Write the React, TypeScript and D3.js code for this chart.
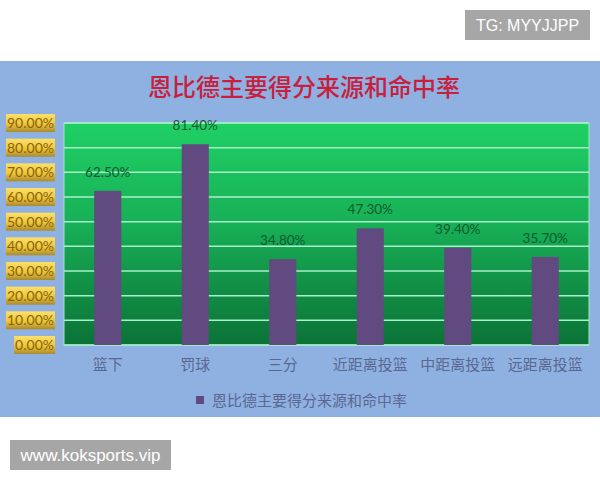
import { useEffect, useRef } from 'react';
import * as d3 from 'd3';

const categories = ['篮下', '罚球', '三分', '近距离投篮', '中距离投篮', '远距离投篮'];
const rates = [0.625, 0.814, 0.348, 0.473, 0.394, 0.357];
const yTicks = [0, 0.1, 0.2, 0.3, 0.4, 0.5, 0.6, 0.7, 0.8, 0.9];
const title = '恩比德主要得分来源和命中率';

const W = 600;
const H = 480;
const CJK = '"Noto Sans CJK SC", "Noto Sans", sans-serif';

export default function App() {
  const svgRef = useRef<SVGSVGElement>(null);

  useEffect(() => {
    if (!svgRef.current) return;
    const svg = d3.select(svgRef.current);
    svg.selectAll('*').remove();

    const defs = svg.append('defs');
    const green = defs
      .append('linearGradient')
      .attr('id', 'plotGreen')
      .attr('x1', 0)
      .attr('y1', 0)
      .attr('x2', 0)
      .attr('y2', 1);
    green.append('stop').attr('offset', '0%').attr('stop-color', '#1fd064');
    green.append('stop').attr('offset', '45%').attr('stop-color', '#18b057');
    green.append('stop').attr('offset', '100%').attr('stop-color', '#0b7236');

    const gold = defs
      .append('linearGradient')
      .attr('id', 'tickGold')
      .attr('x1', 0)
      .attr('y1', 0)
      .attr('x2', 0)
      .attr('y2', 1);
    gold.append('stop').attr('offset', '0%').attr('stop-color', '#fbe06a');
    gold.append('stop').attr('offset', '55%').attr('stop-color', '#f1c638');
    gold.append('stop').attr('offset', '100%').attr('stop-color', '#a98a2e');

    svg.append('rect').attr('width', W).attr('height', H).attr('fill', '#ffffff');

    // chart background
    svg.append('rect').attr('x', 0).attr('y', 61).attr('width', W).attr('height', 356).attr('fill', '#8fb1e2');

    svg
      .append('text')
      .attr('x', 304)
      .attr('y', 96)
      .attr('text-anchor', 'middle')
      .style('font-family', CJK)
      .style('font-size', '24px')
      .style('font-weight', 500)
      .style('fill', '#c8203c')
      .text(title);

    const plot = { left: 64, right: 589, top: 123, bottom: 345 };

    const x = d3.scaleBand<string>().domain(categories).range([plot.left, plot.right]);
    const y = d3.scaleLinear().domain([0, 0.9]).range([plot.bottom, plot.top]);
    const barW = x.step() * 0.31;

    svg
      .append('rect')
      .attr('x', plot.left)
      .attr('y', plot.top)
      .attr('width', plot.right - plot.left)
      .attr('height', plot.bottom - plot.top)
      .attr('fill', 'url(#plotGreen)')
      .attr('stroke', '#9fe8c4')
      .attr('stroke-width', 1);

    svg
      .append('g')
      .selectAll('line')
      .data(yTicks)
      .join('line')
      .attr('x1', plot.left)
      .attr('x2', plot.right)
      .attr('y1', (d) => y(d))
      .attr('y2', (d) => y(d))
      .attr('stroke', '#a8f0cc')
      .attr('stroke-width', 1.5);

    svg
      .append('g')
      .selectAll('rect')
      .data(rates)
      .join('rect')
      .attr('x', (_, i) => (x(categories[i]) ?? 0) + x.bandwidth() / 2 - barW / 2)
      .attr('y', (d) => y(d))
      .attr('width', barW)
      .attr('height', (d) => plot.bottom - y(d))
      .attr('fill', '#614a80');

    svg
      .append('g')
      .selectAll('text')
      .data(rates)
      .join('text')
      .attr('x', (_, i) => (x(categories[i]) ?? 0) + x.bandwidth() / 2)
      .attr('y', (d) => y(d) - 14)
      .attr('text-anchor', 'middle')
      .style('font-family', 'Lato, "Open Sans", sans-serif')
      .style('font-size', '13.5px')
      .style('fill', '#0e5a30')
      .text((d) => d3.format('.2%')(d));

    // y tick labels in gold boxes
    const tickG = svg
      .append('g')
      .selectAll('g')
      .data(yTicks)
      .join('g')
      .attr('transform', (d) => `translate(0,${y(d)})`);

    tickG
      .append('text')
      .attr('x', 54)
      .attr('y', 5)
      .attr('text-anchor', 'end')
      .style('font-family', 'Lato, "Open Sans", sans-serif')
      .style('font-size', '14px')
      .style('fill', '#85640f')
      .text((d) => d3.format('.2%')(d))
      .each(function () {
        const bb = (this as SVGTextElement).getBBox();
        d3.select((this as SVGTextElement).parentNode as SVGGElement)
          .insert('rect', 'text')
          .attr('x', bb.x - 1)
          .attr('y', -9)
          .attr('width', bb.width + 2)
          .attr('height', 18)
          .attr('fill', 'url(#tickGold)');
      });

    svg
      .append('g')
      .selectAll('text')
      .data(categories)
      .join('text')
      .attr('x', (d) => (x(d) ?? 0) + x.bandwidth() / 2)
      .attr('y', 370)
      .attr('text-anchor', 'middle')
      .style('font-family', CJK)
      .style('font-size', '15px')
      .style('fill', '#5a6890')
      .text((d) => d);

    // legend
    svg.append('rect').attr('x', 196).attr('y', 396).attr('width', 8).attr('height', 8).attr('fill', '#614a80');
    svg
      .append('text')
      .attr('x', 212)
      .attr('y', 406)
      .style('font-family', CJK)
      .style('font-size', '15px')
      .style('fill', '#5a6890')
      .text(title);

    // watermarks
    svg.append('rect').attr('x', 465).attr('y', 10).attr('width', 125).attr('height', 30).attr('fill', '#a6a6a6');
    svg
      .append('text')
      .attr('x', 527.5)
      .attr('y', 31)
      .attr('text-anchor', 'middle')
      .style('font-family', '"Liberation Sans", Arial, sans-serif')
      .style('font-size', '16px')
      .style('fill', '#ffffff')
      .text('TG: MYYJJPP');

    svg.append('rect').attr('x', 10).attr('y', 440).attr('width', 161).attr('height', 30).attr('fill', '#a6a6a6');
    svg
      .append('text')
      .attr('x', 90.5)
      .attr('y', 461)
      .attr('text-anchor', 'middle')
      .style('font-family', '"Liberation Sans", Arial, sans-serif')
      .style('font-size', '17px')
      .style('fill', '#ffffff')
      .text('www.koksports.vip');
  }, []);

  return (
    <svg
      ref={svgRef}
      width={W}
      height={H}
      style={{ position: 'absolute', left: 0, top: 0, display: 'block' }}
    ></svg>
  );
}
